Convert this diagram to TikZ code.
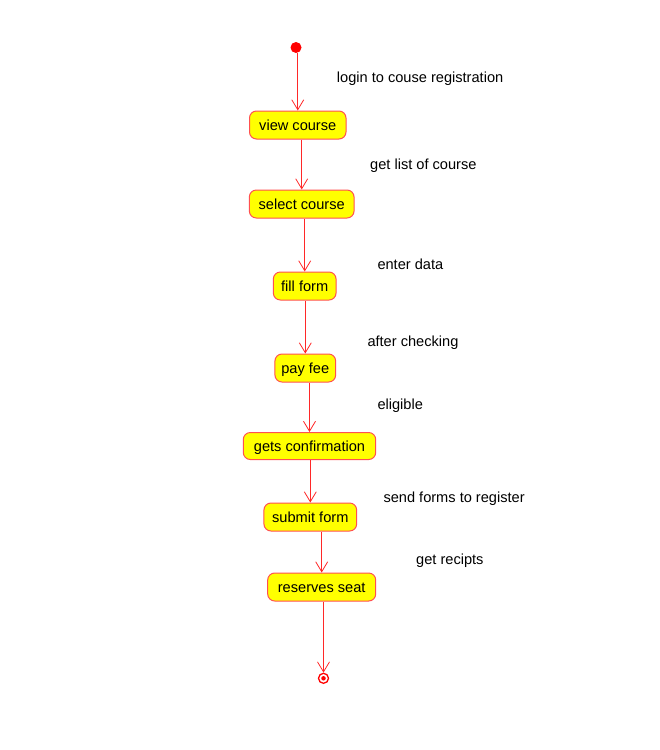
\documentclass[tikz,border=0pt]{standalone}
\usepackage{fontspec}
\setmainfont{Liberation Sans}
\usetikzlibrary{arrows.meta}
\definecolor{boxfill}{RGB}{255,255,0}
\definecolor{boxline}{RGB}{255,80,80}
\definecolor{flowline}{RGB}{255,40,40}
\begin{document}
\begin{tikzpicture}[x=1pt,y=-1pt,
  act/.style={draw=boxline, fill=boxfill, line width=1pt, rounded corners=7pt,
    inner sep=0pt, minimum height=28pt, text height=11pt, text depth=0pt,
    font=\fontsize{14.6}{17}\selectfont},
  lbl/.style={anchor=base west, inner sep=0pt, font=\fontsize{14.6}{17}\selectfont},
  flow/.style={draw=flowline, line width=0.9pt,
    -{Straight Barb[length=10pt,width=12pt,line width=0.8pt]}}]
\useasboundingbox (0,0) rectangle (660,750);
\node[circle, fill=red, inner sep=0pt, minimum size=11pt] (start) at (296,47.5) {};
\node[act, minimum width=96.5pt]  (view)    at (297.75,125) {view course};
\node[act, minimum width=104.7pt] (select)  at (301.7,204) {select course};
\node[act, minimum width=62.7pt]  (fill)    at (304.7,286) {fill form};
\node[act, minimum width=60.7pt]  (pay)     at (305.3,368) {pay fee};
\node[act, minimum width=132.4pt, minimum height=27pt] (gets) at (309.5,446) {gets confirmation};
\node[act, minimum width=92.7pt]  (submit)  at (310.3,517) {submit form};
\node[act, minimum width=108pt]   (reserve) at (321.7,587) {reserves seat};
\node[circle, draw=red, line width=1.3pt, fill=white, inner sep=0pt, minimum size=10pt] (end) at (323.5,678.3) {};
\node[circle, fill=red, inner sep=0pt, minimum size=4.5pt] (enddot) at (end.center) {};
\draw[flow] (start.south -| view.north) -- (view.north);
\draw[flow] (view.south -| select.north) -- (select.north);
\draw[flow] (select.south -| fill.north) -- (fill.north);
\draw[flow] (fill.south -| pay.north) -- (pay.north);
\draw[flow] (pay.south -| gets.north) -- (gets.north);
\draw[flow] (gets.south -| submit.north) -- (submit.north);
\draw[flow] (submit.south -| reserve.north) -- (reserve.north);
\draw[flow] (reserve.south -| end.north) -- (end.north);
\node[lbl] (l1) at (336.7,82.5) {login to couse registration};
\node[lbl] (l2) at (370,169.3) {get list of course};
\node[lbl] (l3) at (377.3,269) {enter data};
\node[lbl] (l4) at (367.3,346.7) {after checking};
\node[lbl] (l5) at (377.3,409.3) {eligible};
\node[lbl] (l6) at (383.3,502.7) {send forms to register};
\node[lbl] (l7) at (416,564.3) {get recipts};
\end{tikzpicture}
\end{document}
